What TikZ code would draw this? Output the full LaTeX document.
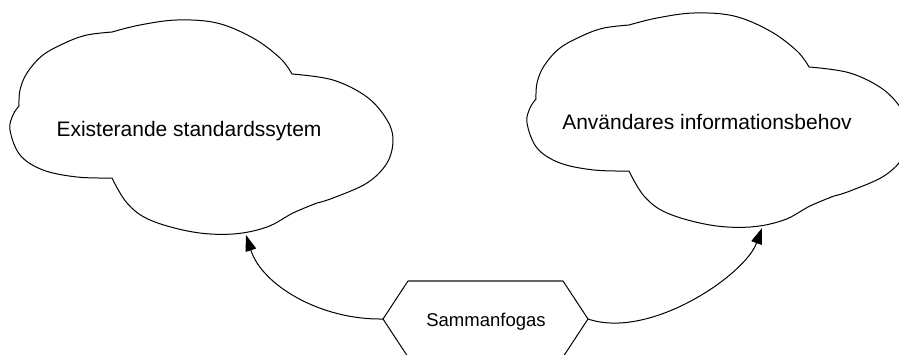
\documentclass[tikz,border=0pt]{standalone}
\usepackage{fontspec}
\setmainfont{Liberation Sans}
\usetikzlibrary{arrows.meta}

% outline of a cloud, built from five lobes
\newcommand\cloudoutline{%
  plot[smooth,tension=0.6] coordinates {(19,106) (20,90) (27,73) (43,55) (67,42) (87,35) (112,32)}
  -- plot[smooth,tension=0.6] coordinates {(112,32) (140,25) (177,20) (217,23) (253,38) (280,58) (292,74)}
  -- plot[smooth,tension=0.6] coordinates {(292,74) (333,80) (367,97) (387,120) (393,140) (387,163) (367,183) (333,198) (317,203)}
  -- plot[smooth,tension=0.6] coordinates {(317,203) (293,213) (267,227) (233,234) (193,232) (150,220) (127,203) (112,178)}
  -- plot[smooth,tension=0.6] coordinates {(112,178) (77,177) (43,170) (20,155) (10,130) (13,115) (19,106)}
  -- cycle}

\tikzset{
  cloudline/.style={draw=black,line width=1pt,fill=white},
  cloudlabel/.style={anchor=base,inner sep=0pt,font=\fontsize{21}{25}\selectfont},
  hexlabel/.style={anchor=base,inner sep=0pt,font=\fontsize{18.5}{22}\selectfont},
  hexline/.style={draw=black,line width=1pt},
  link/.style={draw=black,line width=1pt,-{Triangle[length=16pt,width=11pt]}}
}

\begin{document}
\begin{tikzpicture}[x=1pt,y=-1pt]
  \useasboundingbox (0,0) rectangle (899,354);
  \clip (0,0) rectangle (899,354);
  \fill[white] (0,0) rectangle (899,354);

  % left cloud
  \draw[cloudline] \cloudoutline;
  \node[cloudlabel] (exist) at (189,136) {Existerande standardssytem};
  \coordinate (existIn) at (246,235);

  % right cloud: same outline, shifted
  \begin{scope}[shift={(517,-7)}]
    \draw[cloudline] \cloudoutline;
  \end{scope}
  \node[cloudlabel] (behov) at (707,129) {Användares informationsbehov};
  \coordinate (behovIn) at (762,228);

  % process hexagon
  \coordinate (hexW) at (383,319);
  \coordinate (hexNW) at (408,281);
  \coordinate (hexNE) at (563,281);
  \coordinate (hexE) at (588,319);
  \coordinate (hexSE) at (563,357);
  \coordinate (hexSW) at (408,357);
  \draw[hexline] (hexNE) -- (hexE) -- (hexSE) -- (hexSW) -- (hexW) -- (hexNW);
  \draw[draw=black!60,line width=1.6pt] (hexNW) -- (hexNE);
  \node[hexlabel] (merge) at (486,326) {Sammanfogas};

  % connectors
  \draw[link] (hexW) .. controls (320,320) and (262,285) .. (existIn);
  \draw[link] (hexE) .. controls (650,340) and (745,275) .. (behovIn);
\end{tikzpicture}
\end{document}
